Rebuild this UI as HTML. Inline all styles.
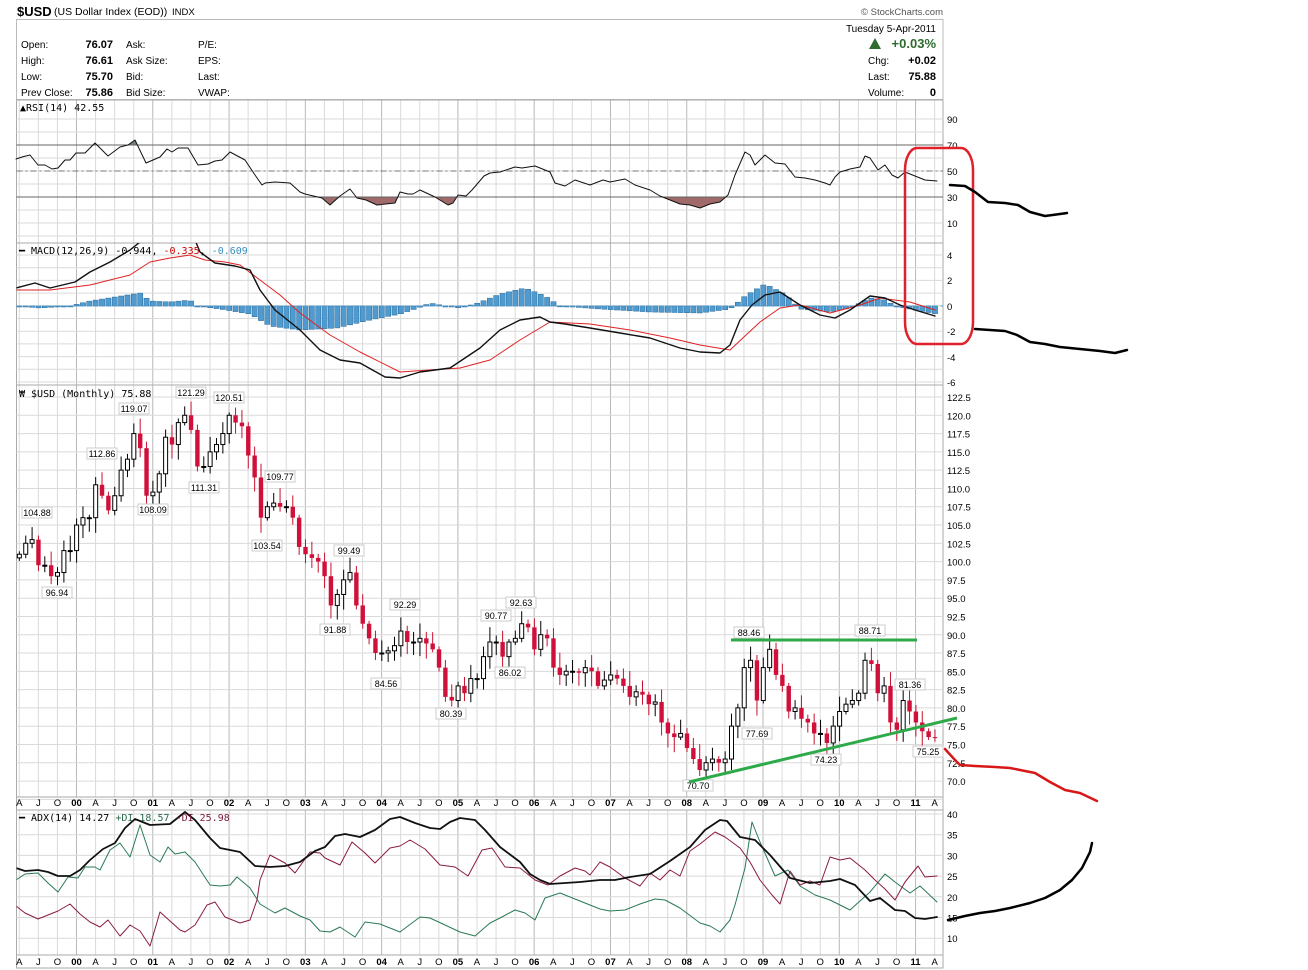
<!DOCTYPE html>
<html><head><meta charset="utf-8"><style>
html,body{margin:0;padding:0;background:#fff;}
svg{display:block;font-family:"Liberation Sans",sans-serif;}
</style></head><body>
<svg id="s" width="1308" height="970" viewBox="0 0 1308 970" xmlns="http://www.w3.org/2000/svg">
<rect width="1308" height="970" fill="#fff"/>
<text x="17" y="16" font-size="13" font-weight="bold">$USD</text>
<text x="54" y="15" font-size="10.5">(US Dollar Index (EOD))</text>
<text x="172" y="15" font-size="9.5">INDX</text>
<text x="943" y="15" font-size="9.5" fill="#555" text-anchor="end">© StockCharts.com</text>
<rect x="16.5" y="19.5" width="926.5" height="80" fill="none" stroke="#bbb"/>
<g font-size="10">
<text x="21" y="48">Open:</text><text x="21" y="64">High:</text><text x="21" y="80">Low:</text><text x="21" y="96">Prev Close:</text>
<g font-weight="bold" font-size="11" text-anchor="end"><text x="113" y="48">76.07</text><text x="113" y="64">76.61</text><text x="113" y="80">75.70</text><text x="113" y="96">75.86</text></g>
<text x="126" y="48">Ask:</text><text x="126" y="64">Ask Size:</text><text x="126" y="80">Bid:</text><text x="126" y="96">Bid Size:</text>
<text x="198" y="48">P/E:</text><text x="198" y="64">EPS:</text><text x="198" y="80">Last:</text><text x="198" y="96">VWAP:</text>
<text x="936" y="32" text-anchor="end">Tuesday  5-Apr-2011</text>
<path d="M869,49 L875,38 L881,49Z" fill="#2e6b2e"/>
<text x="936" y="48" text-anchor="end" font-size="13" font-weight="bold" fill="#2e6b2e">+0.03%</text>
<text x="868" y="64">Chg:</text><text x="868" y="80">Last:</text><text x="868" y="96">Volume:</text>
<g font-weight="bold" font-size="11" text-anchor="end"><text x="936" y="64">+0.02</text><text x="936" y="80">75.88</text><text x="936" y="96">0</text></g>
</g>
<g id="grid"></g>
<g id="plots"></g>
<g font-size="9.5" fill="#000">
<text x="20" y="111" font-size="10" font-family="DejaVu Sans Mono, monospace">▲RSI(14) 42.55</text>
<text x="19" y="254" font-size="10" font-family="DejaVu Sans Mono, monospace">━ MACD(12,26,9) -0.944, <tspan fill="#c00">-0.335</tspan>, <tspan fill="#3a8fc0">-0.609</tspan></text>
<text x="19" y="397" font-size="10" font-family="DejaVu Sans Mono, monospace">₩ $USD (Monthly) 75.88</text>
<text x="19" y="821" font-size="10" font-family="DejaVu Sans Mono, monospace">━ ADX(14) 14.27 <tspan fill="#2a6a4a">+DI 18.57</tspan> <tspan fill="#7a1a3a">-DI 25.98</tspan></text>
</g>
<g id="axes" font-size="9.5"></g>
<g id="ann"></g>
</svg>
<script>
(function(){
var NS="http://www.w3.org/2000/svg";
function el(p,t,a,txt){var e=document.createElementNS(NS,t);for(var k in a)e.setAttribute(k,a[k]);if(txt!=null)e.textContent=txt;document.getElementById(p).appendChild(e);return e;}
var L=16.5,R=943;
function mx(m){return 76.3*(m/12)+0.3;}
var panels=[[100,243],[243,385],[385,797],[810,955]];
panels.forEach(function(p){
 for(var k=-3;k<=45;k++){var x=76.5+k*19.07;if(x<L||x>R)continue;
  el("grid","line",{x1:x,x2:x,y1:p[0],y2:p[1],stroke:(k%4==0)?"#b8b8b8":"#dadada","stroke-width":1});}
 el("grid","rect",{x:L,y:p[0],width:R-L,height:p[1]-p[0],fill:"none",stroke:"#aaa"});
});
el("grid","rect",{x:L,y:797,width:R-L,height:13,fill:"#fff",stroke:"#aaa"});
el("grid","rect",{x:L,y:955,width:R-L,height:13,fill:"#fff",stroke:"#aaa"});
for(var y=119;y<243;y+=13)el("grid","line",{x1:L,x2:R,y1:y,y2:y,stroke:"#dadada"});
for(var y=255;y<385;y+=12.7)el("grid","line",{x1:L,x2:R,y1:y,y2:y,stroke:"#dadada"});
for(var i=0;i<=22;i++){var y=397+i*18.29;el("grid","line",{x1:L,x2:R,y1:y,y2:y,stroke:"#dadada"});}
for(var i=0;i<7;i++){var y=814+i*20.7;el("grid","line",{x1:L,x2:R,y1:y,y2:y,stroke:"#dadada"});}
[[90,119],[70,145],[50,171],[30,197],[10,223]].forEach(function(a){el("axes","text",{x:947,y:a[1]+4},a[0]);});
[[4,255],[2,280],[0,306],[-2,331],[-4,357],[-6,382]].forEach(function(a){el("axes","text",{x:947,y:a[1]+4},a[0]);});
for(var i=0;i<=21;i++){var v=122.5-i*2.5;el("axes","text",{x:947,y:397+i*18.29+4},v.toFixed(1));}
[40,35,30,25,20,15,10].forEach(function(v,i){el("axes","text",{x:947,y:814+i*20.7+4},v);});
var ql=["J","A","J","O"];
[806,965].forEach(function(yy){
 for(var k=-3;k<=45;k++){var x=76.5+k*19.07;if(x<14||x>945)continue;var q=((k%4)+4)%4;
  var t=q==0?String((k/4)|0).padStart(2,"0"):ql[q];
  el("axes","text",{x:x,y:yy,"text-anchor":"middle","font-weight":q==0?"bold":"normal"},t);}
});
function pl(g,pts,c,w){el(g,"polyline",{points:pts.map(function(p){return p.join(",")}).join(" "),fill:"none",stroke:c,"stroke-width":w,"stroke-linejoin":"round","stroke-linecap":"round"});}
var defs=el("plots","defs",{});
function clip(id,x,y,w,h){var c=document.createElementNS(NS,"clipPath");c.id=id;var r=document.createElementNS(NS,"rect");r.setAttribute("x",x);r.setAttribute("y",y);r.setAttribute("width",w);r.setAttribute("height",h);c.appendChild(r);defs.appendChild(c);}
clip("c70",L,100,R-L,45);clip("c30",L,197,R-L,46);clip("cm",L,243,R-L,142);clip("ca",L,810,R-L,145);
var rsi=[[16,159],[22,157],[30,155],[38,165],[45,165],[52,169],[58,168],[65,160],[70,160],[76,153],[85,153],[95,143],[108,156],[120,147],[128,145],[135,140],[146,163],[160,157],[167,149],[172,152],[178,148],[188,148],[198,165],[208,164],[215,161],[222,160],[230,152],[245,160],[255,175],[262,185],[265,183],[275,182],[290,183],[300,192],[305,194],[322,198],[330,205],[340,196],[350,189],[357,198],[366,200],[377,205],[395,203],[400,192],[408,194],[413,194],[420,190],[435,197],[448,205],[453,203],[458,195],[466,196],[472,190],[484,176],[490,173],[500,172],[515,167],[522,168],[535,166],[550,172],[555,183],[565,186],[575,180],[590,185],[603,180],[610,182],[625,179],[635,185],[650,190],[660,196],[670,200],[680,204],[690,205],[700,208],[710,204],[720,202],[728,195],[735,175],[745,152],[750,155],[755,165],[765,155],[775,163],[785,164],[795,177],[805,178],[815,180],[825,183],[830,185],[835,177],[840,172],[850,169],[860,167],[865,156],[870,158],[878,170],[885,165],[892,175],[898,178],[905,172],[915,176],[925,180],[937,181]];
var g1=el("plots","g",{"clip-path":"url(#c70)"});
var pts=rsi.map(function(p){return p.join(",")}).join(" ");
function poly(g,pp,f){var e=document.createElementNS(NS,"polygon");e.setAttribute("points",pp);e.setAttribute("fill",f);g.appendChild(e);}
poly(g1,pts+" 937,145 16,145","#6f7f70");
var g2=el("plots","g",{"clip-path":"url(#c30)"});
poly(g2,pts+" 937,197 16,197","#a06a6a");
el("plots","line",{x1:L,x2:R,y1:145,y2:145,stroke:"#666"});
el("plots","line",{x1:L,x2:R,y1:197,y2:197,stroke:"#666"});
el("plots","line",{x1:L,x2:R,y1:171,y2:171,stroke:"#777","stroke-dasharray":"6,3,2,3"});
pl("plots",rsi,"#111",1);
var mb=[[16,288],[35,283],[50,288],[75,282],[90,272],[110,262],[130,250],[140,242],[160,232],[180,228],[195,240],[200,252],[215,263],[235,266],[250,270],[260,290],[275,310],[300,330],[320,350],[340,360],[360,363],[385,377],[400,378],[420,372],[435,370],[450,368],[465,358],[480,348],[500,330],[520,320],[540,317],[550,322],[565,324],[590,328],[620,333],[650,338],[680,348],[700,352],[720,353],[730,345],[740,320],[752,305],[765,295],[780,292],[800,305],[820,315],[835,318],[850,310],[870,296],[885,298],[900,305],[915,310],[935,316]];
var mr=[[16,290],[50,290],[90,285],[130,275],[150,262],[170,258],[190,255],[205,260],[225,262],[240,265],[260,280],[280,295],[300,313],[330,335],[360,352],[400,372],[430,370],[460,368],[490,360],[520,340],[550,322],[590,324],[630,330],[670,338],[700,345],[730,350],[760,322],[780,308],[800,305],[830,313],[860,305],[880,298],[910,302],[935,310]];
var hs=[[16,0],[40,-2],[70,0],[90,5],[115,9],[140,13],[150,5],[170,4],[190,6],[196,0],[220,-3],[250,-8],[270,-20],[300,-24],[337,-22],[370,-14],[400,-8],[418,-2],[430,3],[445,0],[460,-2],[478,3],[500,12],[525,18],[545,10],[560,0],[600,-3],[650,-6],[700,-7],[730,-3],[745,10],[765,22],[785,12],[800,-3],[830,-6],[850,-2],[870,8],[885,6],[895,0],[920,-5],[937,-8]];
function interp(a,x){for(var i=1;i<a.length;i++){if(x<=a[i][0]){var t=(x-a[i-1][0])/(a[i][0]-a[i-1][0]);return a[i-1][1]+t*(a[i][1]-a[i-1][1]);}}return a[a.length-1][1];}
el("plots","g",{"clip-path":"url(#cm)",id:"gm"});
for(var m=3;m<=147;m++){var x=mx(m);var d=interp(hs,x);
 var h=Math.abs(d);el("gm","rect",{x:x-2.6,y:d>0?306-h:306,width:5.2,height:Math.max(h,1),fill:"#4f9bd0",stroke:"#2a6a9a","stroke-width":0.5});}
el("gm","line",{x1:L,x2:R,y1:306,y2:306,stroke:"#4f9bd0","stroke-dasharray":"4,3"});
pl("gm",mr,"#e02020",1);pl("gm",mb,"#111",1.4);
var C=[101,102.5,103,99.5,99.5,98,98.5,101.5,101.5,
105,106,106,110.5,109,107,109,112.5,114,117.5,115.5,109,
109.5,112,117,116,119,120,118,113,113,115,116,117.5,
120,119,118.5,114.5,111.5,106,107.5,108,107.5,107.5,106,102,
101,100.5,100,98,94,95.5,97.5,98.5,94,91.5,89.5,87.5,
87.5,87.8,88.5,90.5,89,89,89.5,88.8,88,85.5,81.5,81,
83,82,84,84,87,89,89,87,89,89.5,91.5,91,
88,90,89.5,85.5,84.5,85,85,84.8,85.5,85,83,83.8,
84.5,84,83,81.5,82.2,81.8,80.5,80.8,78,76.5,76,76.5,
74.5,73,71.5,72.5,73,72.5,73,77.5,80,85.5,86.5,81,
85.5,88,84.5,83,79.5,80,78.5,78,76.5,76.5,75.2,77.5,
79.5,80.5,81,82,86.5,86,82,83,78,77,81,79.5,
78,76.8,76,75.9];
function py(p){return 397+(122.5-p)*7.314;}
var prev=100.5;
for(var i=0;i<C.length;i++){var m=3+i,x=mx(m),o=prev,c=C[i];
 var r1=((i*37)%11)/11,r2=((i*53)%13)/13;
 var hi=Math.max(o,c)+0.4+r1*1.8,lo=Math.min(o,c)-0.4-r2*1.8;
 el("plots","line",{x1:x,x2:x,y1:py(hi),y2:py(lo),stroke:c<o?"#c8102e":"#000","stroke-width":1});
 var by=py(Math.max(o,c)),bh=Math.max(Math.abs(py(o)-py(c)),1);
 if(c<o)el("plots","rect",{x:x-2.2,y:by,width:4.4,height:bh,fill:"#d0103a"});
 else el("plots","rect",{x:x-2,y:by,width:4,height:bh,fill:"#fff",stroke:"#000","stroke-width":1});
 prev=c;}
var labs=[[37,515,"104.88"],[57,595,"96.94"],[102,456,"112.86"],[134,411,"119.07"],[153,512,"108.09"],[191,395,"121.29"],[204,490,"111.31"],[229,400,"120.51"],[280,479,"109.77"],[267,548,"103.54"],[349,553,"99.49"],[335,632,"91.88"],[386,686,"84.56"],[405,607,"92.29"],[451,716,"80.39"],[496,618,"90.77"],[510,675,"86.02"],[521,605,"92.63"],[698,788,"70.70"],[749,635,"88.46"],[757,736,"77.69"],[870,633,"88.71"],[826,762,"74.23"],[910,687,"81.36"],[928,754,"75.25"]];
labs.forEach(function(a){el("plots","rect",{x:a[0]-15,y:a[1]-8,width:30,height:11,fill:"#fff",stroke:"#ccc"});el("plots","text",{x:a[0],y:a[1]+1,"font-size":"9","text-anchor":"middle"},a[2]);});
el("plots","line",{x1:731,x2:917,y1:640,y2:640,stroke:"#2eaa4a","stroke-width":3});
el("plots","line",{x1:689,x2:957,y1:782,y2:718,stroke:"#2eaa4a","stroke-width":3});
el("plots","g",{"clip-path":"url(#ca)",id:"ga"});
var adx=[[16,868],[25,871],[38,870],[48,872],[58,876],[70,876],[80,870],[90,860],[103,849],[115,843],[125,828],[135,819],[150,825],[170,824],[185,812],[195,820],[210,838],[220,848],[230,850],[240,852],[255,866],[270,867],[285,866],[300,862],[315,851],[325,847],[335,836],[345,834],[360,837],[375,830],[390,819],[400,817],[415,823],[430,828],[440,829],[450,822],[460,818],[475,820],[485,830],[500,847],[520,862],[530,874],[540,880],[550,884],[565,883],[580,882],[600,880],[615,880],[630,877],[650,874],[670,861],[690,847],[705,830],[720,820],[727,821],[740,837],[755,840],[770,855],[790,878],[810,883],[830,881],[840,879],[855,885],[870,901],[880,898],[895,910],[905,911],[915,918],[925,919],[937,917]];
var pdi=[[16,880],[25,874],[38,873],[48,883],[58,892],[68,877],[78,878],[85,867],[95,867],[100,870],[110,850],[120,843],[130,857],[140,825],[150,855],[160,862],[168,847],[175,854],[185,852],[195,862],[210,885],[220,886],[230,885],[237,877],[250,888],[260,904],[275,913],[285,908],[300,916],[310,920],[320,931],[330,932],[340,927],[355,937],[365,922],[380,924],[400,932],[420,917],[430,918],[445,925],[460,932],[475,936],[490,923],[500,918],[515,910],[525,913],[535,920],[545,898],[560,893],[580,901],[600,909],[610,911],[625,910],[640,904],[655,899],[665,900],[680,908],[700,923],[710,926],[720,932],[730,920],[735,905],[745,868],[752,822],[760,842],[775,876],[788,870],[800,886],[815,895],[830,900],[850,910],[870,892],[885,874],[895,882],[910,893],[920,886],[937,902]];
var mdi=[[16,906],[25,913],[38,919],[48,915],[58,911],[70,904],[80,914],[90,922],[100,927],[108,920],[120,936],[130,925],[140,931],[150,946],[160,912],[170,921],[180,930],[185,932],[195,925],[207,905],[215,902],[225,917],[240,923],[250,920],[257,900],[260,880],[270,855],[285,863],[295,873],[310,852],[320,853],[325,858],[340,865],[352,842],[365,853],[375,863],[382,856],[390,848],[400,846],[410,840],[425,849],[440,865],[455,867],[468,876],[482,850],[492,848],[505,867],[520,868],[535,880],[548,885],[560,876],[575,868],[585,871],[590,875],[600,862],[610,867],[625,878],[640,886],[650,873],[660,880],[670,870],[680,876],[690,851],[700,844],[715,832],[725,837],[740,848],[750,862],[760,880],[772,895],[780,904],[790,871],[800,885],[810,881],[820,885],[830,857],[840,860],[850,858],[865,870],[875,880],[885,889],[895,900],[905,882],[918,866],[925,877],[937,876]];
pl("ga",pdi,"#2a7a55",1);pl("ga",mdi,"#8a1a44",1);pl("ga",adx,"#111",1.8);
el("ann","rect",{x:905,y:148,width:68,height:196,rx:12,ry:22,fill:"none",stroke:"#e0202a","stroke-width":2.5});
pl("ann",[[950,185],[965,186],[975,192],[988,202],[1005,203],[1018,205],[1030,212],[1045,216],[1060,214],[1067,213]],"#000",2.5);
pl("ann",[[975,329],[990,330],[1005,331],[1017,335],[1030,342],[1045,344],[1060,347],[1080,349],[1100,351],[1115,353],[1127,350]],"#000",2.5);
pl("ann",[[945,749],[955,760],[960,765],[975,766],[995,767],[1010,768],[1020,770],[1035,773],[1050,782],[1065,790],[1080,793],[1097,801]],"#d81818",2.5);
pl("ann",[[948,920],[965,916],[980,913],[995,911],[1010,908],[1030,903],[1045,898],[1060,890],[1072,880],[1082,868],[1090,852],[1092,843]],"#000",2.5);
})();
</script>
</body></html>
